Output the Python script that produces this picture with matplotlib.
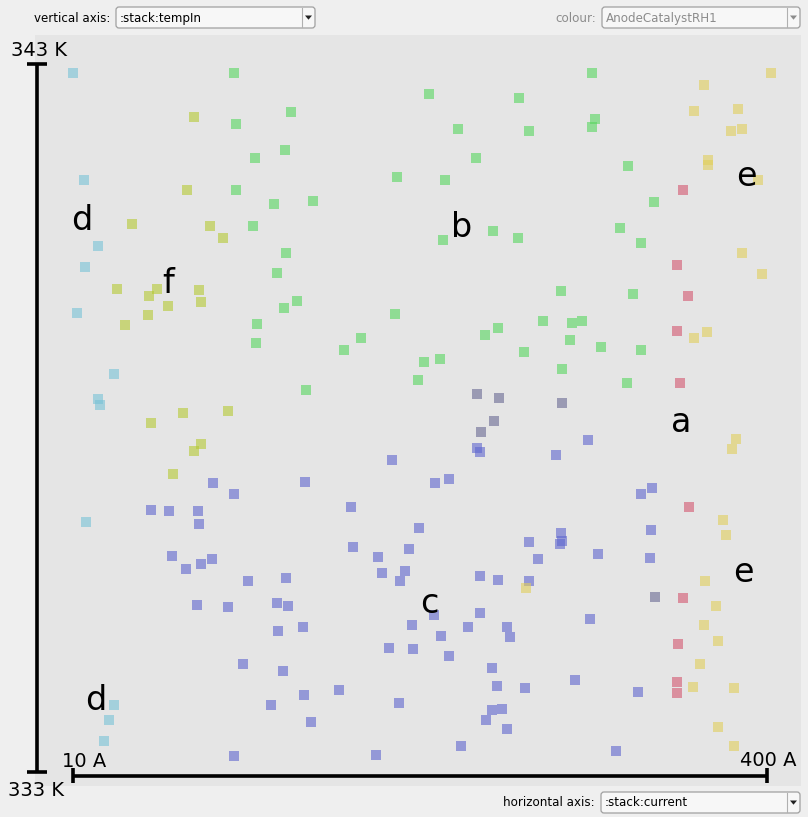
import matplotlib
matplotlib.use("Agg")
import matplotlib.pyplot as plt
from matplotlib.patches import FancyBboxPatch, Polygon, Rectangle

# ---------------- data ----------------
current_range = [10, 400]      # A
temp_range = [333, 343]        # K
x_tick_labels = ["10 A", "400 A"]
y_tick_labels = ["333 K", "343 K"]

a_current = [352.8, 349.4, 355.6, 349.4, 351.1, 356.2, 352.8, 350.0, 349.4, 349.4]
a_temp = [341.22, 340.16, 339.72, 339.23, 338.49, 336.74, 335.46, 334.81, 334.27, 334.12]

b_current = [100.5, 132.5, 101.6, 129.1, 112.3, 101.6, 123.0, 144.9, 111.2, 129.7, 124.6, 135.9, 128.6,
             113.4, 112.8, 301.7, 210.1, 260.7, 303.4, 301.7, 226.4, 266.3, 236.5, 321.9, 192.1, 219.1,
             336.5, 246.0, 217.9, 260.1, 317.4, 329.2, 284.3, 324.7, 191.0, 171.9, 162.3, 241.5, 248.9,
             274.1, 290.4, 296.1, 289.3, 263.5, 306.7, 329.2, 207.3, 216.3, 284.8, 203.9, 321.3, 140.9]
b_temp = [342.86, 342.31, 342.15, 341.78, 341.67, 341.22, 341.01, 341.06, 340.71, 340.33, 340.05, 339.65,
          339.55, 339.33, 339.05, 342.86, 342.57, 342.52, 342.22, 342.11, 342.08, 342.05, 341.67, 341.56,
          341.40, 341.35, 341.05, 340.64, 340.51, 340.53, 340.68, 340.47, 339.79, 339.75, 339.47, 339.12,
          338.96, 339.17, 339.26, 339.36, 339.34, 339.37, 339.10, 338.93, 339.00, 338.95, 338.79, 338.83,
          338.69, 338.53, 338.49, 338.39]

c_current = [189.3, 88.7, 140.4, 100.5, 166.2, 53.8, 64.0, 80.3, 80.8, 167.4, 181.4, 65.6, 88.1, 81.9,
             73.5, 183.7, 108.4, 129.7, 193.5, 79.7, 97.1, 124.6, 130.8, 125.2, 139.3, 187.6, 105.5, 128.0,
             159.5, 139.8, 121.3, 193.2, 143.8, 100.5, 180.3, 237.0, 238.7, 299.4, 281.4, 213.4, 221.3,
             335.4, 329.2, 204.5, 198.8, 266.3, 284.3, 284.8, 283.7, 271.3, 305.1, 334.8, 334.3, 196.6,
             238.7, 248.9, 266.3, 212.9, 238.7, 200.5, 216.8, 232.0, 253.9, 255.6, 300.6, 201.1, 221.3,
             245.5, 248.3, 264.0, 292.1, 327.5, 245.5, 251.1, 242.1, 253.9, 228.1, 315.2]
c_temp = [337.41, 337.08, 337.10, 336.93, 336.74, 336.70, 336.69, 336.69, 336.50, 336.18, 336.04, 336.05,
          336.00, 335.94, 335.86, 335.81, 335.69, 335.74, 335.70, 335.36, 335.33, 335.38, 335.35, 334.99,
          335.05, 334.75, 334.53, 334.43, 334.16, 334.09, 333.95, 333.98, 333.70, 333.22, 333.24, 337.58,
          337.52, 337.68, 337.48, 337.08, 337.14, 337.01, 336.93, 336.45, 336.15, 336.24, 336.38, 336.26,
          336.22, 336.00, 336.08, 336.41, 336.02, 335.84, 335.77, 335.71, 335.70, 335.22, 335.25, 335.07,
          334.92, 335.05, 335.05, 334.91, 335.16, 334.73, 334.64, 334.47, 334.22, 334.19, 334.30, 334.13,
          333.88, 333.89, 333.74, 333.61, 333.36, 333.29]

d_current = [10.0, 16.2, 24.0, 16.7, 12.2, 33.0, 24.0, 25.2, 17.3, 33.0, 30.2, 27.4]
d_temp = [342.86, 341.36, 340.43, 340.13, 339.48, 338.62, 338.27, 338.18, 336.53, 333.94, 333.74, 333.44]

e_current = [402.3, 364.6, 359.0, 383.7, 379.8, 386.0, 366.9, 366.9, 395.0, 386.0, 397.2, 366.3, 359.0,
             382.6, 380.4, 375.3, 377.0, 264.6, 365.2, 371.4, 364.6, 372.5, 362.4, 358.4, 381.5, 372.5, 381.5]
e_temp = [342.86, 342.70, 342.33, 342.36, 342.05, 342.07, 341.64, 341.57, 341.36, 340.32, 340.03, 339.21,
          339.12, 337.70, 337.56, 336.56, 336.35, 335.60, 335.70, 335.35, 335.07, 334.85, 334.53, 334.20,
          334.19, 333.64, 333.36]

f_current = [78.0, 74.1, 43.2, 87.0, 94.3, 34.7, 57.2, 52.7, 80.8, 81.9, 63.4, 52.2, 39.2, 71.8, 97.1,
             53.8, 81.9, 78.0, 66.2]
f_temp = [342.25, 341.22, 340.74, 340.71, 340.53, 339.82, 339.82, 339.72, 339.81, 339.64, 339.58, 339.45,
          339.31, 338.07, 338.10, 337.93, 337.63, 337.53, 337.20]

g_current = [237.0, 249.4, 284.8, 246.6, 239.3, 337.1]
g_temp = [338.33, 338.28, 338.21, 337.96, 337.80, 335.47]

cluster_labels = ["d", "f", "b", "e", "a", "e", "c", "d"]
label_current = [14.8, 63.7, 228.6, 388.2, 352.0, 386.8, 210.1, 22.9]
label_temp = [340.65, 339.76, 340.55, 341.27, 337.80, 335.68, 335.24, 333.88]

# ---------------- style ----------------
series = [
    (c_current, c_temp, "#5e66cf"),
    (g_current, g_temp, "#686893"),
    (b_current, b_temp, "#57d65e"),
    (d_current, d_temp, "#77c2d6"),
    (f_current, f_temp, "#b5c933"),
    (a_current, a_temp, "#d4576f"),
    (e_current, e_temp, "#e1cf5b"),
]

W, H = 808, 817
fig = plt.figure(figsize=(W / 100, H / 100), dpi=100, facecolor="#efefef")

# panel in pixels
pl, pr, pt, pb = 35, 801, 35, 786
ax = fig.add_axes([pl / W, (H - pb) / H, (pr - pl) / W, (pb - pt) / H])
ax.set_facecolor("#e5e5e5")
for s in ax.spines.values():
    s.set_visible(False)
ax.set_xticks([])
ax.set_yticks([])

# axis scale: 10 A at px 73, 400 A at px 767; 343 K at px 63.5, 333 K at px 772
ppa = (767 - 73) / (current_range[1] - current_range[0])
ppk = (772 - 63.5) / (temp_range[1] - temp_range[0])
ax.set_xlim(current_range[0] - (73 - pl) / ppa, current_range[1] + (pr - 767) / ppa)
ax.set_ylim(temp_range[0] - (pb - 772) / ppk, temp_range[1] + (63.5 - pt) / ppk)

for xs, ys, col in series:
    ax.scatter(xs, ys, marker="s", s=52, c=col, alpha=0.6, linewidths=0, zorder=3)

for lab, xc, yc in zip(cluster_labels, label_current, label_temp):
    ax.text(xc, yc, lab, fontsize=24, ha="center", va="baseline", color="black", zorder=5)

# axis bars
pw = pr - pl
ph = pb - pt
ytr = ax.get_yaxis_transform()
xtr = ax.get_xaxis_transform()
yx = (37 - pl) / pw
ax.plot([yx, yx], temp_range, transform=ytr, color="black", lw=2.6, solid_capstyle="butt", clip_on=False, zorder=4)
for tv in temp_range:
    ax.plot([(27 - pl) / pw, (47 - pl) / pw], [tv, tv], transform=ytr, color="black", lw=2.6,
            solid_capstyle="butt", clip_on=False, zorder=4)
xy = (pb - 775.5) / ph
ax.plot(current_range, [xy, xy], transform=xtr, color="black", lw=2.6, solid_capstyle="butt", clip_on=False, zorder=4)
for cv in current_range:
    ax.plot([cv, cv], [(pb - 783) / ph, (pb - 768) / ph], transform=xtr, color="black", lw=2.6,
            solid_capstyle="butt", clip_on=False, zorder=4)

# overlay in pixel coordinates for UI elements
ov = fig.add_axes([0, 0, 1, 1], facecolor="none")
ov.set_xlim(0, W)
ov.set_ylim(H, 0)
ov.axis("off")

ov.text(67, 56, y_tick_labels[1], fontsize=14, ha="right", va="baseline")
ov.text(64, 796, y_tick_labels[0], fontsize=14, ha="right", va="baseline")
ov.text(62, 767, x_tick_labels[0], fontsize=14, ha="left", va="baseline")
ov.text(797, 766, x_tick_labels[1], fontsize=14, ha="right", va="baseline")


def combo(x0, x1, y0, y1, label, text, disabled=False):
    tcol = "#8c8c8c" if disabled else "black"
    box = FancyBboxPatch((x0 + 1.5, y0 + 1.5), x1 - x0 - 3, y1 - y0 - 3,
                         boxstyle="round,pad=1.5,rounding_size=3",
                         facecolor="#f7f7f7", edgecolor="#a0a0a0", lw=0.9)
    ov.add_patch(box)
    dv = x1 - 13
    ov.plot([dv, dv], [y0 + 1, y1 - 1], color="#b0b0b0", lw=0.8)
    ax_c = (dv + x1) / 2
    ym = (y0 + y1) / 2
    tri = Polygon([[ax_c - 3.5, ym - 2], [ax_c + 3.5, ym - 2], [ax_c, ym + 2.2]], closed=True,
                  facecolor="#222222" if not disabled else "#8c8c8c", edgecolor="none")
    ov.add_patch(tri)
    ov.text(x0 + 4, ym + 0.5, text, fontsize=8.6, ha="left", va="center", color=tcol,
            family="DejaVu Sans")
    ov.text(x0 - 6, ym + 0.5, label, fontsize=8.6, ha="right", va="center", color=tcol,
            family="DejaVu Sans")


combo(116, 315, 7, 28, "vertical axis:", ":stack:tempIn")
combo(602, 800, 7, 28, "colour:", "AnodeCatalystRH1", disabled=True)
combo(601, 800, 792, 813, "horizontal axis:", ":stack:current")

fig.savefig("out.png", dpi=100, facecolor=fig.get_facecolor())
